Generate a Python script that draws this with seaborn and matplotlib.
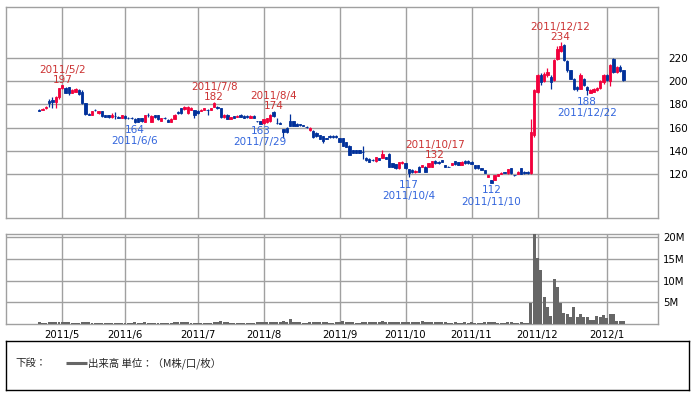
import numpy as np
import pandas as pd
import matplotlib
matplotlib.use("Agg")
import matplotlib.pyplot as plt
import seaborn as sns

# trading calendar (TSE holidays inside the range)
start_date = "2011-04-20"
end_date = "2012-01-12"
holidays = ["2011-04-29", "2011-05-03", "2011-05-04", "2011-05-05", "2011-07-18",
            "2011-09-19", "2011-09-23", "2011-10-10", "2011-11-03", "2011-11-23",
            "2011-12-23", "2012-01-02", "2012-01-03", "2012-01-09"]

# daily prices, one line per month
opens = [
    175, 175, 176.5, 183, 184, 182, 186,
    194, 194, 195, 190, 191, 192, 191, 181, 172, 171, 175.2, 172.5, 174, 170.5, 170.5, 169, 170, 169.5, 168,
    170, 168.3, 168.3, 167.5, 168, 168, 165, 171.2, 165, 171, 170.5, 166, 168.2, 166.5, 165, 167.5, 173.5, 176.5, 176, 172.5, 175, 175,
    174.5, 174, 175.5, 175.3, 175.5, 178, 178, 176.5, 169, 171, 167.7, 169.6, 169, 171, 170.2, 169.7, 168.3, 170.2, 165.5, 165.5,
    164, 164.6, 165.5, 173.5, 164.2, 163.6, 158.5, 160, 165.5, 165.5, 163.5, 162.8, 161.9, 160.5, 157.6, 157, 155.7, 153.4, 152.3, 150.6, 152.9, 152.9, 152.9,
    150.6, 150.6, 147.3, 144.5, 140.3, 140.3, 140.3, 139, 133.8, 133.3, 132.1, 131, 133.8, 133.8, 134.7, 137.5, 129.1, 128.3, 124.9, 129.1,
    129.1, 124.3, 123.5, 121.5, 126.3, 126.3, 126.3, 126.3, 126.3, 131.5, 130.5, 131.8, 127.7, 126.4, 127.7, 131, 129.9, 127.8, 131.5, 131.5,
    130.7, 127.8, 127.8, 124.9, 123.5, 117.7, 114.8, 114.8, 118.6, 120, 121.3, 120.6, 124.9, 119.2, 120, 124.9, 122, 122, 120.5, 153.4,
    190.8, 205, 200, 205, 204, 201, 219, 226, 231, 217, 209.5, 202.3, 195, 193.7, 202.3, 195, 190, 191, 192, 194, 199,
    205, 200.5, 219, 208, 212, 209.5,
]
highs = [
    176, 177, 178.5, 184.5, 186, 187, 194.5,
    197, 195, 195, 193, 194, 193, 192, 181, 173, 174, 176, 174, 174, 171, 171, 173, 173.5, 170, 171,
    170.5, 169, 169, 168, 168.5, 168.5, 171, 173, 170.5, 171, 171, 168.5, 169, 167, 168, 171.5, 174, 177, 178.5, 178.5, 177.5, 175.5,
    175, 176, 177, 176, 177, 182, 178.5, 177, 171.5, 171.5, 169.5, 170, 170.5, 171.5, 170.5, 170.5, 170.5, 170.5, 166, 166,
    167.5, 168.5, 171.5, 174, 168.3, 164.5, 158.5, 160.5, 171.5, 166, 164, 163.5, 162.5, 161, 160.5, 157.5, 156, 154, 152.5, 151, 153.3, 153.3, 153.5,
    151, 151, 147.5, 145, 140.5, 140.5, 140.5, 144.5, 134.2, 133.5, 132.5, 135, 134, 140.3, 135, 138, 129.5, 128.5, 130.2, 130.8,
    129.5, 124.5, 124, 123, 126.5, 128, 126.5, 129.5, 131.5, 132, 131, 131.9, 128, 126.8, 129.4, 131.3, 130.2, 131, 131.8, 131.8,
    131, 128, 128, 125.2, 123.8, 119.4, 115, 119.4, 120.3, 121.5, 121.6, 124.3, 125.2, 119.5, 122.3, 125.2, 122.3, 122.3, 167.8, 193,
    206, 207, 208, 211, 205, 219, 230, 234, 232, 218, 210, 203, 196, 207, 203, 195.5, 193, 194, 195, 201, 206,
    206, 215, 220, 213, 214, 210,
]
lows = [
    174, 175, 176, 177.5, 177, 177, 185,
    193, 190, 188, 190, 190.5, 188, 180.5, 171, 170.5, 171, 174, 172, 169.5, 169, 168.5, 168, 167.8, 168, 168,
    167.5, 167.5, 167.5, 164, 165, 165, 165, 169, 165, 168.5, 166.5, 165.5, 167, 164.5, 165, 167, 172, 172, 175.5, 172, 175, 168,
    172, 174, 175, 171, 175.5, 178, 176, 168.5, 168.5, 167, 167.5, 168, 169, 169, 168, 168.5, 168, 168, 165, 163,
    163.5, 164.3, 165, 169.5, 163.5, 163.2, 151, 155.5, 161, 161, 161, 161.5, 161, 159.5, 157, 151, 152, 150, 146.7, 150, 151.2, 151, 151,
    147.5, 144, 143, 136, 138, 138, 138, 133.3, 131.5, 130.3, 131.5, 130.5, 132, 133.5, 133, 126, 126, 124.5, 124, 128.8,
    124.5, 117, 121, 121, 121.5, 126, 122, 126, 126, 129, 128.8, 130.4, 126, 125.8, 127.5, 128, 127.5, 127.5, 129, 129,
    128.3, 124.6, 124.6, 123.2, 120.9, 117.4, 112, 114.5, 118.3, 119.7, 120.8, 120.3, 120.3, 118.2, 119.8, 119.7, 120.3, 120.3, 120.3, 152,
    190, 197, 199, 204, 193.5, 200.5, 218, 225, 217, 208, 201.5, 192, 191.5, 193, 195.5, 188, 189.5, 190.5, 191.5, 193.5, 198,
    200, 195.5, 207, 207.5, 208, 200,
]
closes = [
    174.5, 176, 178, 181, 182, 186, 194,
    197, 190, 190, 192, 193, 189, 181, 171.5, 171, 174, 175, 174, 170, 169, 169, 171, 169.8, 168.5, 170.5,
    168, 168, 168.1, 164.5, 165, 165.5, 170.5, 171, 170, 169, 167, 168, 168, 165, 167.5, 171, 172.5, 172.5, 178, 178, 177, 171,
    172.5, 175.5, 176.5, 175, 176.5, 181, 176.5, 169, 171, 167.5, 169, 168.3, 170.2, 169.1, 168.3, 169.5, 170.2, 168.3, 165.3, 163.5,
    167, 168.3, 171, 169.7, 164, 163.5, 156.5, 156, 161.5, 161.5, 161.3, 162.6, 161.7, 160.3, 160, 151.5, 152.3, 150.1, 148.7, 150.4, 151.5, 151.5, 151.5,
    147.8, 144.5, 143.1, 136.6, 138.3, 138.3, 138.3, 138.8, 131.9, 130.5, 131.9, 134.7, 132.4, 137.5, 133.3, 126.3, 126.3, 124.9, 129.9, 130.5,
    124.9, 120.7, 121.5, 122.7, 122.1, 127.7, 122.1, 129.1, 131, 129.5, 129.1, 130.6, 126.3, 126.2, 129.1, 128.3, 127.7, 130.7, 129.2, 129.2,
    128.6, 124.9, 124.9, 123.5, 121.2, 119.1, 112.5, 119.1, 120, 121.2, 121.1, 124, 120.6, 119, 122, 120, 120.6, 120.6, 156.3, 192.2,
    205.2, 199, 206, 208, 199, 218, 228, 230, 218, 210, 202.3, 193.7, 193.7, 205, 196.6, 192, 192, 193, 194.5, 200, 205,
    201, 214, 208, 212, 209, 201,
]
# volume in millions of shares
volumes = [
    0.35, 0.3, 0.3, 0.45, 0.4, 0.4, 0.5,
    0.5, 0.4, 0.4, 0.3, 0.3, 0.3, 0.4, 0.5, 0.4, 0.3, 0.3, 0.3, 0.3, 0.3, 0.3, 0.3, 0.3, 0.3, 0.3,
    0.3, 0.25, 0.25, 0.35, 0.3, 0.3, 0.35, 0.3, 0.3, 0.3, 0.3, 0.25, 0.25, 0.3, 0.3, 0.35, 0.35, 0.4, 0.35, 0.4, 0.3, 0.3,
    0.3, 0.3, 0.3, 0.3, 0.3, 0.45, 0.35, 0.6, 0.4, 0.35, 0.3, 0.3, 0.3, 0.3, 0.3, 0.3, 0.3, 0.3, 0.35, 0.4,
    0.4, 0.4, 0.45, 0.5, 0.4, 0.35, 0.6, 0.5, 1.1, 0.5, 0.4, 0.35, 0.3, 0.3, 0.35, 0.45, 0.4, 0.4, 0.45, 0.35, 0.3, 0.3, 0.35,
    0.35, 0.6, 0.5, 0.45, 0.35, 0.3, 0.3, 0.4, 0.55, 0.45, 0.35, 0.4, 0.35, 0.6, 0.4, 0.5, 0.4, 0.35, 0.4, 0.35,
    0.45, 0.55, 0.4, 0.35, 0.4, 0.6, 0.35, 0.35, 0.4, 0.45, 0.35, 0.35, 0.35, 0.3, 0.3, 0.35, 0.3, 0.3, 0.35, 0.3,
    0.35, 0.3, 0.3, 0.3, 0.35, 0.4, 0.5, 0.35, 0.3, 0.3, 0.3, 0.35, 0.4, 0.3, 0.3, 0.35, 0.3, 0.3, 4.9, 22.0,
    15.1, 12.4, 6.1, 4.0, 1.8, 10.4, 8.4, 4.9, 2.6, 2.4, 1.6, 4.0, 1.6, 2.4, 1.6, 1.6, 0.9, 0.9, 1.9, 1.6, 2.1,
    1.4, 2.3, 2.3, 0.8, 0.6, 0.6,
]

peak_dates = ["2011-05-02", "2011-07-08", "2011-08-04", "2011-10-17", "2011-12-12"]
trough_dates = ["2011-06-06", "2011-07-29", "2011-10-04", "2011-11-10", "2011-12-22"]
price_ticks = [120, 140, 160, 180, 200, 220]
volume_ticks = [5, 10, 15, 20]

UP = "#f2003c"
DOWN = "#00309a"
GRID = "#a0a0a0"
RED_TXT = "#cc3333"
BLUE_TXT = "#3366dd"

sns.set_theme(style="white")
plt.rcParams["font.family"] = ["DejaVu Sans", "Noto Sans CJK JP"]

dates = pd.bdate_range(start_date, end_date)
dates = dates[~dates.isin(pd.to_datetime(holidays))]
df = pd.DataFrame({"date": dates, "open": opens, "high": highs, "low": lows,
                   "close": closes, "volume": volumes})
df["pos"] = np.arange(len(df))
df["color"] = np.where(df["close"] >= df["open"], UP, DOWN)

# first trading day of each month (April is cut off, skip it)
firsts = df.groupby(df["date"].dt.to_period("M"))["pos"].first().iloc[1:]
month_pos = firsts.values
month_lab = [f"{p.year}/{p.month}" for p in firsts.index]

W, H = 696, 395
def box(l, t, r, b):
    return [l / W, 1 - b / H, (r - l) / W, (b - t) / H]

fig = plt.figure(figsize=(W / 100, H / 100), dpi=100)
ax = fig.add_axes(box(6, 7, 658, 218))
axv = fig.add_axes(box(6, 234, 658, 324))
axl = fig.add_axes(box(6, 341, 689, 390))

xlim = (-10.06, 187.5)

# price panel - candles
ax.vlines(df["pos"], df["low"], df["high"], colors=df["color"], linewidth=0.9, zorder=3)
ax.bar(df["pos"], df["close"] - df["open"], bottom=df["open"], width=0.72,
       color=df["color"], edgecolor=df["color"], linewidth=0.6, zorder=4)

for d in peak_dates:
    r = df.loc[df["date"] == pd.Timestamp(d)].iloc[0]
    ax.annotate(f"{int(round(r['high']))}", (r["pos"], r["high"]), xytext=(0, 1.4),
                textcoords="offset points", ha="center", va="baseline",
                color=RED_TXT, fontsize=7.5)
    ax.annotate(f"{r['date'].year}/{r['date'].month}/{r['date'].day}", (r["pos"], r["high"]),
                xytext=(0, 8.6), textcoords="offset points", ha="center", va="baseline",
                color=RED_TXT, fontsize=7.5)
for d in trough_dates:
    r = df.loc[df["date"] == pd.Timestamp(d)].iloc[0]
    ax.annotate(f"{int(round(r['low']))}", (r["pos"], r["low"]), xytext=(0, -7.4),
                textcoords="offset points", ha="center", va="baseline",
                color=BLUE_TXT, fontsize=7.5)
    ax.annotate(f"{r['date'].year}/{r['date'].month}/{r['date'].day}", (r["pos"], r["low"]),
                xytext=(0, -15.4), textcoords="offset points", ha="center", va="baseline",
                color=BLUE_TXT, fontsize=7.5)

ax.set_xlim(*xlim)
ax.set_ylim(82, 264)
ax.set_xticks(month_pos)
ax.set_yticks(price_ticks)
ax.yaxis.tick_right()
ax.tick_params(axis="x", labelbottom=False, length=0)
ax.tick_params(axis="y", length=0, pad=7.5, labelsize=7.5, labelcolor="black")
ax.grid(True, color=GRID, linewidth=1, zorder=0)
ax.set_axisbelow(True)

# volume panel
sns.barplot(data=df, x="pos", y="volume", native_scale=True, color="#666666",
            saturation=1, width=0.9, errorbar=None, linewidth=0, ax=axv, zorder=3)
axv.set_xlim(*xlim)
axv.set_ylim(0, 20.7)
axv.set_xticks(month_pos, month_lab)
axv.set_yticks(volume_ticks, [f"{v}M" for v in volume_ticks])
axv.yaxis.tick_right()
axv.tick_params(axis="x", length=0, pad=4, labelsize=7.3, labelcolor="black")
axv.tick_params(axis="y", length=0, pad=3.5, labelsize=7.3, labelcolor="black")
axv.set_xlabel("")
axv.set_ylabel("")
axv.grid(True, color=GRID, linewidth=1, zorder=0)
axv.set_axisbelow(True)

for a in (ax, axv):
    for s in a.spines.values():
        s.set_color(GRID)
        s.set_linewidth(1)

# legend box
axl.set_xlim(0, 683)
axl.set_ylim(49, 0)
axl.set_xticks([])
axl.set_yticks([])
for s in axl.spines.values():
    s.set_color("black")
    s.set_linewidth(1)
cjk = ["Noto Sans CJK JP", "DejaVu Sans"]
axl.text(9, 22, "下段：", family=cjk, fontsize=7.5, va="center", ha="left")
axl.plot([60, 81], [22, 22], color="#666666", linewidth=2.2, solid_capstyle="butt")
axl.text(82, 22, "出来高 単位：（M株/口/枚）", family=cjk, fontsize=7.5, va="center", ha="left")

fig.savefig("out.png", dpi=100)
